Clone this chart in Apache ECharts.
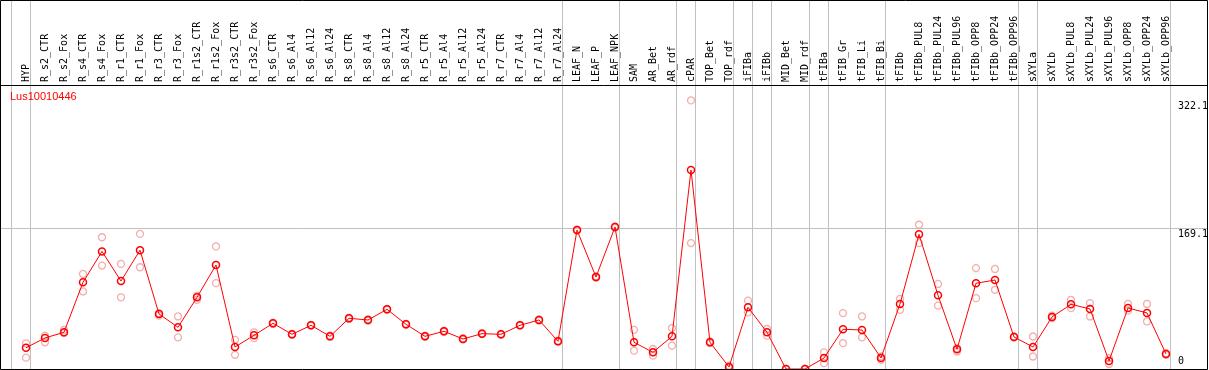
<!DOCTYPE html>
<html><head><meta charset="utf-8">
<script src="https://cdn.jsdelivr.net/npm/echarts@6/dist/echarts.min.js"></script>
<style>html,body{margin:0;padding:0;background:#fff}#c{width:1209px;height:370px}</style>
</head><body><div id="c"></div>
<script>
const categories = ['HYP','R_s2_CTR','R_s2_Fox','R_s4_CTR','R_s4_Fox','R_r1_CTR','R_r1_Fox','R_r3_CTR','R_r3_Fox','R_r1s2_CTR','R_r1s2_Fox','R_r3s2_CTR','R_r3s2_Fox','R_s6_CTR','R_s6_Al4','R_s6_Al12','R_s6_Al24','R_s8_CTR','R_s8_Al4','R_s8_Al12','R_s8_Al24','R_r5_CTR','R_r5_Al4','R_r5_Al12','R_r5_Al24','R_r7_CTR','R_r7_Al4','R_r7_Al12','R_r7_Al24','LEAF_N','LEAF_P','LEAF_NPK','SAM','AR_Bet','AR_rdf','cPAR','TOP_Bet','TOP_rdf','iFIBa','iFIBb','MID_Bet','MID_rdf','tFIBa','tFIB_Gr','tFIB_Li','tFIB_Bi','tFIBb','tFIBb_PUL8','tFIBb_PUL24','tFIBb_PUL96','tFIBb_OPP8','tFIBb_OPP24','tFIBb_OPP96','sXYLa','sXYLb','sXYLb_PUL8','sXYLb_PUL24','sXYLb_PUL96','sXYLb_OPP8','sXYLb_OPP24','sXYLb_OPP96'];
const meanValues = [25.5,37.2,44,104,141,105.5,142.4,66,50,86,124.7,26.4,40.4,54.8,41.6,52.4,39.2,60.8,58.8,71.6,53.6,39.2,45.2,36,42.4,41.6,52.4,58.8,33.2,166.7,110.3,170.3,32,20,39.2,238.7,32,2.4,74,44,0,0,13.2,47.6,46.8,13.2,78,161.5,88.4,23.6,102.8,106.7,38.4,26.4,62.4,77.6,72,9.6,73.2,67.2,18];
const repHigh = [30.8,40,47,114,158,126,162,67,63,88,147,35,44,55.5,42,53,40,61.5,59.5,72,54,40,46,37,43,42,53,59.5,34,167,111,171,47,24,49,322.1,33,4,82,48,0,0,20,67,63,15,84,173,102,25,121,120,39,39,64,83,79,13,78,78,19];
const repLow = [13.6,32,43,93,124,86,122,64,38,83,103,17,37,54,41,52,38.5,60,58,71,53,38.5,44.5,35.5,42,41,52,58,32.5,166,109.5,169.5,22,16,28,151,31,1,68,40,0,0,7,31,38,11,71,151,76,21,85,95,38,15,61,73,63,6,70,57,17];
const groupEnds = [-1,0,28,31,34,35,37,38,39,41,42,45,52,53,60];
const yTickValues = [322.1,169.1,0];
const gridValues = [169.1];
const geneName = 'Lus10010446';
const yMax = 340.6;

const chart = echarts.init(document.getElementById('c'), null, {renderer:'canvas'});
const mono = 'DejaVu Sans Mono';
const option = {
  animation:false,
  backgroundColor:'#fff',
  grid:{left:16.5, right:33.5, top:85, bottom:1, containLabel:false},
  xAxis:{type:'category', position:'top', data:categories, boundaryGap:true,
    axisLine:{show:false}, axisTick:{show:false}, splitLine:{show:false},
    axisLabel:{interval:0, rotate:90, fontFamily:mono, fontSize:10, color:'#000', margin:3}},
  yAxis:{type:'value', min:0, max:yMax, show:false},
  series:[
    {type:'scatter', data:repHigh, symbol:'circle', symbolSize:7, z:2,
     itemStyle:{color:'rgba(0,0,0,0)', borderColor:'#f09a9a', borderWidth:1.3}},
    {type:'scatter', data:repLow, symbol:'circle', symbolSize:7, z:2,
     itemStyle:{color:'rgba(0,0,0,0)', borderColor:'#f09a9a', borderWidth:1.3}},
    {type:'line', data:meanValues, symbol:'circle', symbolSize:7, showAllSymbol:true, z:3,
     lineStyle:{color:'#ff0000', width:1},
     itemStyle:{color:'rgba(0,0,0,0)', borderColor:'#ff0000', borderWidth:1.5}}
  ]
};
chart.setOption(option);

const px = i => chart.convertToPixel({xAxisIndex:0}, i);
const py = v => chart.convertToPixel({yAxisIndex:0}, v);
const band = px(1) - px(0);
const W = 1209, H = 370;
const gfx = [];
groupEnds.forEach(g => {
  const x = Math.floor(px(0) + g*band + band/2 - 5) + 0.5;
  gfx.push({type:'line', z:-1, shape:{x1:x, y1:0, x2:x, y2:H}, style:{stroke:'#c0c0c0', lineWidth:1}});
});
gridValues.forEach(v => {
  const y = Math.floor(py(v)) + 0.5;
  gfx.push({type:'line', z:-1, shape:{x1:0, y1:y, x2:1207, y2:y}, style:{stroke:'#c0c0c0', lineWidth:1}});
});
const topY = Math.floor(py(yMax)) + 0.5;
gfx.push({type:'line', z:10, shape:{x1:0, y1:topY, x2:1207.5, y2:topY}, style:{stroke:'#000', lineWidth:1}});
gfx.push({type:'rect', z:10, shape:{x:0.5, y:0.5, width:1207, height:369}, style:{fill:'none', stroke:'#000', lineWidth:1}});
yTickValues.forEach(v => {
  const isZero = v === 0;
  gfx.push({type:'text', z:11, x:1178, y: isZero ? py(v) - 3 : py(v) + 1,
    style:{text:String(v), font:'10px "DejaVu Sans Mono"', fill:'#000', align:'left', verticalAlign: isZero ? 'bottom' : 'top'}});
});
gfx.push({type:'text', z:11, x:10, y:91, style:{text:geneName, font:'11px "Liberation Sans"', fill:'#ff0000', align:'left', verticalAlign:'top'}});
chart.setOption({graphic:gfx});
</script></body></html>
